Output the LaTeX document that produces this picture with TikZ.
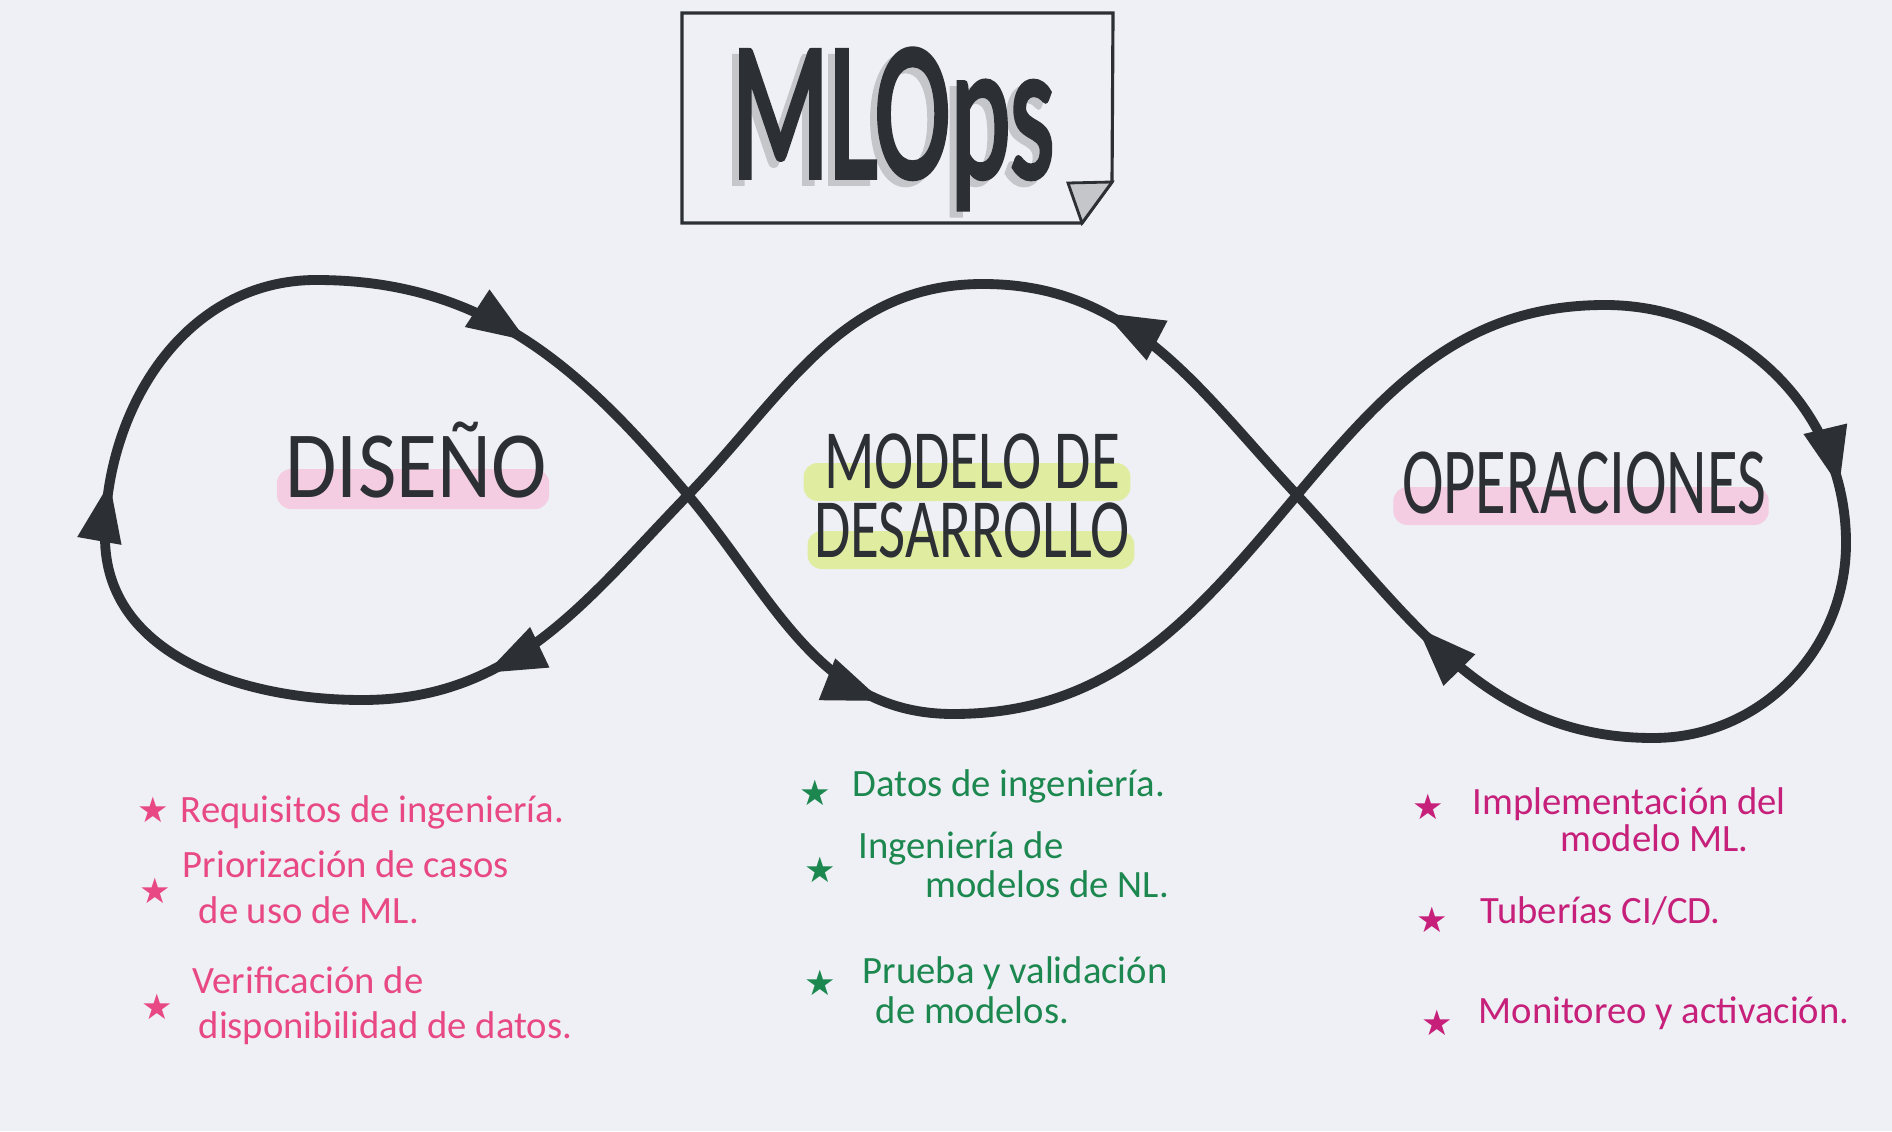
\documentclass[tikz,border=0pt]{standalone}
\usepackage{fontspec}
\setmainfont{Carlito}
\newfontfamily\starfont{DejaVu Sans}
\newfontfamily\titlefont[FakeBold=3]{Carlito}
\usepackage{graphicx}
\usepackage{tikz}
\usetikzlibrary{arrows.meta,decorations.markings,backgrounds}
\definecolor{ops_paper}{RGB}{238,240,246}
\definecolor{ops_ink}{RGB}{44,47,52}
\definecolor{ops_pink}{RGB}{232,72,132}
\definecolor{ops_magenta}{RGB}{198,32,122}
\definecolor{ops_green}{RGB}{28,135,78}
\definecolor{ops_hlpink}{RGB}{245,205,226}
\definecolor{ops_hllime}{RGB}{224,236,160}
\definecolor{ops_shade}{RGB}{196,198,202}

\begin{document}
\begin{tikzpicture}[
    loopline/.style={draw=ops_ink, line width=2.8pt, line cap=round},
    arrowat/.style={postaction={decorate}, decoration={markings,
        mark=at position #1 with {\arrow[ops_ink]{Triangle[length=0.6cm,width=0.42cm]}}}},
    phase/.style={inner sep=0pt, text=ops_ink, anchor=base, align=center,
                  font=\fontsize{27}{19.4}\selectfont},
    item/.style={inner sep=0pt, anchor=base west, align=left,
                 font=\fontsize{11}{12}\selectfont},
    bullet/.style={inner sep=0pt, font=\starfont\fontsize{10}{10}\selectfont},
  ]
  \useasboundingbox (0,0) rectangle (18.92,11.31);

  % title card with folded corner
  \draw[ops_ink, line width=0.9pt] (6.82,11.18) -- (11.13,11.18) -- (11.12,9.49)
        -- (10.82,9.08) -- (6.82,9.08) -- cycle;
  \filldraw[fill=ops_shade, draw=ops_ink, line width=0.8pt]
        (10.68,9.48) -- (11.12,9.49) -- (10.82,9.08) -- cycle;
  \node[inner sep=0pt, anchor=base, text=ops_shade] (titleshade) at (8.86,9.48)
        {\titlefont\fontsize{56}{56}\selectfont\scalebox{0.58}[1]{MLOps}};
  \node[inner sep=0pt, anchor=base, text=ops_ink] (title) at (8.93,9.54)
        {\titlefont\fontsize{56}{56}\selectfont\scalebox{0.58}[1]{MLOps}};

  % points of the loop
  \coordinate (l)  at (1.05,5.94);
  \coordinate (lt) at (3.16,8.51);
  \coordinate (lb) at (3.62,4.31);
  \coordinate (x1) at (6.88,6.36);
  \coordinate (mt) at (9.83,8.47);
  \coordinate (mb) at (9.53,4.17);
  \coordinate (x2) at (12.97,6.36);
  \coordinate (rt) at (16.05,8.26);
  \coordinate (r)  at (18.46,5.88);
  \coordinate (rb) at (16.53,3.93);

  % the loop, in the direction of travel
  \draw[loopline, arrowat=0.5]  (lt) to[out=0,in=130] (x1);
  \draw[loopline, arrowat=0.8]  (x1) to[out=-50,in=180] (mb);
  \draw[loopline]               (mb) to[out=0,in=230] (x2);
  \draw[loopline]               (x2) to[out=50,in=180] (rt);
  \draw[loopline, arrowat=0.85] (rt) to[out=0,in=90] (r);
  \draw[loopline]               (r)  to[out=-90,in=0] (rb);
  \draw[loopline, arrowat=0.6]  (rb) to[out=180,in=313] (x2);
  \draw[loopline, arrowat=0.68] (x2) to[out=133,in=0] (mt);
  \draw[loopline]               (mt) to[out=180,in=46] (x1);
  \draw[loopline, arrowat=0.68] (x1) to[out=226,in=0] (lb);
  \draw[loopline]               (lb) to[out=180,in=-90] (l);
  \draw[loopline, arrowat=0.15] (l)  to[out=90,in=180] (lt);

  % phase names
  \node[phase] (dis) at (4.16,6.34) {\scalebox{0.88}[1]{DISEÑO}};
  \node[phase, font=\fontsize{24}{19.4}\selectfont] (dev) at (9.72,5.74)
        {\scalebox{0.7}[1]{MODELO DE}\\\scalebox{0.7}[1]{DESARROLLO}};
  \node[phase] (ops) at (15.84,6.18) {\scalebox{0.66}[1]{OPERACIONES}};

  % marker highlights under the names
  \begin{pgfonlayer}{background}
    \fill[ops_paper] (0,0) rectangle (18.92,11.31);
    \fill[ops_hlpink, rounded corners=4pt] ([shift={(-0.08,-0.12)}]dis.base west)
          rectangle ([shift={(0.02,0.28)}]dis.base east);
    \fill[ops_hllime, rounded corners=4pt] ([shift={(-0.1,0.56)}]dev.base west)
          rectangle ([shift={(0,0.94)}]dev.base east);
    \fill[ops_hllime, rounded corners=4pt] ([shift={(-0.06,-0.12)}]dev.base west)
          rectangle ([shift={(0.04,0.26)}]dev.base east);
    \fill[ops_hlpink, rounded corners=4pt] ([shift={(-0.08,-0.12)}]ops.base west)
          rectangle ([shift={(0.02,0.26)}]ops.base east);
  \end{pgfonlayer}

  % design tasks
  \node[bullet, text=ops_pink] (d1s) at (1.53,3.21) {★};
  \node[item, text=ops_pink] (d1) at (1.80,3.09) {Requisitos de ingeniería.};
  \node[bullet, text=ops_pink] (d2s) at (1.55,2.40) {★};
  \node[item, text=ops_pink] (d2) at (1.82,2.08)
        {Priorización de casos\\[1pt]\hspace*{0.16cm}de uso de ML.};
  \node[bullet, text=ops_pink] (d3s) at (1.57,1.24) {★};
  \node[item, text=ops_pink] (d3) at (1.92,0.93)
        {Verificación de\\[0.8pt]\hspace*{0.06cm}disponibilidad de datos.};

  % development tasks
  \node[bullet, text=ops_green] (m1s) at (8.15,3.38) {★};
  \node[item, text=ops_green] (m1) at (8.52,3.35) {Datos de ingeniería.};
  \node[bullet, text=ops_green] (m2s) at (8.20,2.61) {★};
  \node[item, text=ops_green] (m2) at (8.58,2.34)
        {Ingeniería de\\[-0.9pt]\hspace*{0.67cm}modelos de NL.};
  \node[bullet, text=ops_green] (m3s) at (8.20,1.48) {★};
  \node[item, text=ops_green] (m3) at (8.62,1.08)
        {Prueba y validación\\[-0.7pt]\hspace*{0.13cm}de modelos.};

  % operations tasks
  \node[bullet, text=ops_magenta] (o1s) at (14.28,3.24) {★};
  \node[item, text=ops_magenta] (o1) at (14.72,2.80)
        {Implementación del\\[-1.6pt]\hspace*{0.88cm}modelo ML.};
  \node[bullet, text=ops_magenta] (o2s) at (14.32,2.11) {★};
  \node[item, text=ops_magenta] (o2) at (14.80,2.08) {Tuberías CI/CD.};
  \node[bullet, text=ops_magenta] (o3s) at (14.37,1.08) {★};
  \node[item, text=ops_magenta] (o3) at (14.78,1.08) {Monitoreo y activación.};
\end{tikzpicture}
\end{document}
